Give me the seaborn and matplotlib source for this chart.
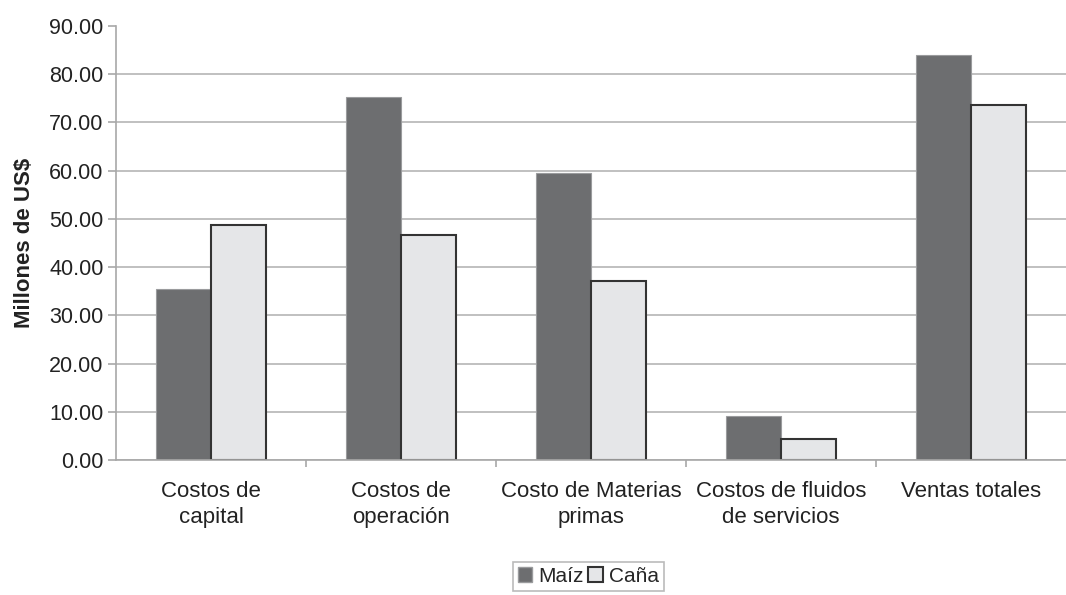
import numpy as np
import pandas as pd
import seaborn as sns
from matplotlib import pyplot as plt
from matplotlib.ticker import FixedLocator

# data
categorias = ["Costos de\ncapital", "Costos de\noperación", "Costo de Materias\nprimas",
              "Costos de fluidos\nde servicios", "Ventas totales"]
maiz = [35.5, 75.3, 59.5, 9.1, 84.0]
cana = [48.7, 46.7, 37.1, 4.4, 73.6]
series = ["Maíz", "Caña"]
yticks = [0, 10, 20, 30, 40, 50, 60, 70, 80, 90]

df = pd.DataFrame({
    "categoria": categorias * 2,
    "valor": maiz + cana,
    "serie": [series[0]] * len(maiz) + [series[1]] * len(cana),
})

sns.set_style("white")
plt.rcParams['font.family'] = ['Liberation Sans', 'DejaVu Sans']

fig = plt.figure(figsize=(10.66, 5.95), dpi=100)
ax = fig.add_axes([0.1088, 0.2269, 0.8912, 0.7294])

colors = {"Maíz": "#6d6e70", "Caña": "#e5e6e8"}
sns.barplot(data=df, x="categoria", y="valor", hue="serie", palette=colors,
            width=0.575, ax=ax, legend=False, saturation=1)

# edges: dark bars get a light edge, light bars a dark edge
n = len(categorias)
for i, p in enumerate(ax.patches[:2 * n]):
    if i < n:
        p.set_edgecolor("#9a9b9d")
        p.set_linewidth(0.8)
    else:
        p.set_edgecolor("#333333")
        p.set_linewidth(1.5)

ax.set_ylim(0, 90)
ax.set_xlim(-0.5, n - 0.5)
ax.yaxis.set_major_locator(FixedLocator(yticks))
ax.set_yticklabels([f"{v:.2f}" for v in yticks])
ax.yaxis.grid(True, color="#b5b5b5", linewidth=1.2)
ax.yaxis.get_gridlines()[-1].set_visible(False)
ax.set_axisbelow(True)

for s in ["top", "right"]:
    ax.spines[s].set_visible(False)
for s in ["left", "bottom"]:
    ax.spines[s].set_color("#a8a8a8")
    ax.spines[s].set_linewidth(1.2)

ax.tick_params(axis="y", left=True, length=6, color="#a8a8a8", width=1.2,
               labelsize=15.5, labelcolor="#222222", pad=3)
ax.tick_params(axis="x", which="major", length=0, labelsize=16,
               labelcolor="#222222", pad=15)
ax.xaxis.set_minor_locator(FixedLocator(np.arange(0.5, n - 0.5, 1.0)))
ax.tick_params(axis="x", which="minor", bottom=True, length=5, color="#a8a8a8", width=1.2)
for lbl in ax.get_xticklabels():
    lbl.set_verticalalignment("top")
    lbl.set_linespacing(1.3)

ax.set_xlabel("")
ax.set_ylabel("Millones de US$", fontsize=16, fontweight="bold", color="#222222", labelpad=10)

handles = [plt.Rectangle((0, 0), 1, 1, facecolor=colors["Maíz"], edgecolor="#9a9b9d"),
           plt.Rectangle((0, 0), 1, 1, facecolor=colors["Caña"], edgecolor="#333333", linewidth=1.5)]
leg = fig.legend(handles, series, loc="upper center", bbox_to_anchor=(0.552, 0.056),
                 borderaxespad=0, ncol=2, frameon=True, fancybox=False, fontsize=15,
                 handlelength=0.7, handleheight=0.7, handletextpad=0.3,
                 columnspacing=0.2, borderpad=0.25)
leg.get_frame().set_edgecolor("#aaaaaa")
leg.get_frame().set_linewidth(1.2)

fig.savefig("out.png", dpi=100)
